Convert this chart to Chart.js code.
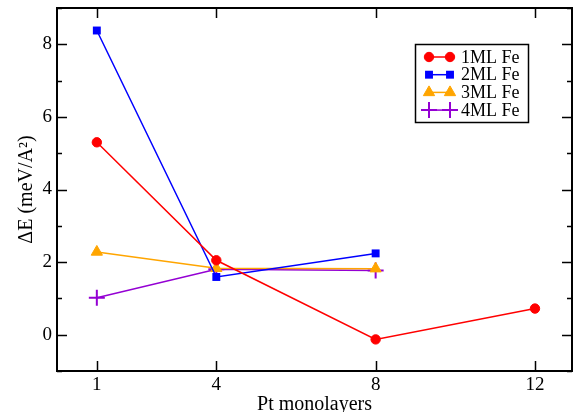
<!DOCTYPE html>
<html>
<head>
<meta charset="utf-8">
<script src="https://cdn.jsdelivr.net/npm/chart.js@4/dist/chart.umd.min.js"></script>
<style>
  html, body { margin: 0; padding: 0; background: #fff; }
  #box { width: 573px; height: 412px; }
</style>
</head>
<body>
<div id="box"><canvas id="graphe"></canvas></div>
<script>
// donnees
const ptLayers = [1, 4, 8, 12];
const fe1 = [5.30, 2.05, -0.13, 0.72];
const fe2 = [8.38, 1.59, 2.24];
const fe3 = [2.28, 1.83, 1.82];
const fe4 = [1.02, 1.80, 1.77];
const xTicks = [1, 4, 8, 12];
const yTicks = [0, 2, 4, 6, 8];
const yMinor = [-1, 1, 3, 5, 7, 9];

const serif = '"Liberation Serif", "DejaVu Serif", serif';
Chart.defaults.font.family = serif;
Chart.defaults.color = '#000';

function pts(vals) {
  return vals.map((v, i) => ({ x: ptLayers[i], y: v }));
}

// cadre avec graduations vers l'interieur (style xmgrace)
const cadre = {
  id: 'cadre',
  afterDraw(chart) {
    const c = chart.ctx, a = chart.chartArea;
    const sx = chart.scales.x, sy = chart.scales.y;
    c.save();
    c.strokeStyle = '#000';
    c.lineWidth = 2;
    c.strokeRect(a.left, a.top, a.right - a.left, a.bottom - a.top);
    c.lineWidth = 1.5;
    c.beginPath();
    xTicks.forEach(v => {
      const x = Math.round(sx.getPixelForValue(v)) + 0.5;
      c.moveTo(x, a.bottom); c.lineTo(x, a.bottom - 10);
      c.moveTo(x, a.top); c.lineTo(x, a.top + 10);
    });
    yTicks.forEach(v => {
      const y = Math.round(sy.getPixelForValue(v)) + 0.5;
      c.moveTo(a.left, y); c.lineTo(a.left + 10, y);
      c.moveTo(a.right, y); c.lineTo(a.right - 10, y);
    });
    yMinor.forEach(v => {
      const y = Math.round(sy.getPixelForValue(v)) + 0.5;
      c.moveTo(a.left, y); c.lineTo(a.left + 5, y);
      c.moveTo(a.right, y); c.lineTo(a.right - 5, y);
    });
    c.stroke();

    // legende
    const lx = 415, ly = 44, lw = 113, lh = 78;
    c.fillStyle = '#fff';
    c.fillRect(lx, ly, lw, lh);
    c.lineWidth = 1.5;
    c.strokeStyle = '#000';
    c.strokeRect(lx + 0.5, ly + 0.5, lw, lh);
    c.font = '18px ' + serif;
    c.textBaseline = 'middle';
    chart.data.datasets.forEach((ds, i) => {
      const y = ly + 13 + i * 17.7;
      c.strokeStyle = ds.borderColor;
      c.lineWidth = ds.borderWidth;
      c.beginPath(); c.moveTo(429, y); c.lineTo(450, y); c.stroke();
      [429, 450].forEach(x => {
        c.fillStyle = ds.pointBackgroundColor;
        c.strokeStyle = ds.pointBorderColor;
        c.lineWidth = ds.pointBorderWidth;
        Chart.helpers.drawPoint(c, { pointStyle: ds.pointStyle, radius: ds.pointRadius, borderWidth: ds.pointBorderWidth, rotation: 0 }, x, y);
      });
      c.fillStyle = '#000';
      c.fillText(ds.label, 461, y + 1);
    });
    c.restore();
  }
};

function serie(label, vals, color, style, radius, bw) {
  return {
    label: label,
    data: pts(vals),
    borderColor: color,
    backgroundColor: color,
    borderWidth: 1.5,
    pointStyle: style,
    pointRadius: radius,
    pointHoverRadius: radius,
    pointBackgroundColor: color,
    pointBorderColor: color,
    pointBorderWidth: bw,
    tension: 0
  };
}

new Chart(document.getElementById('graphe'), {
  type: 'line',
  data: {
    datasets: [
      serie('1ML Fe', fe1, '#ff0000', 'circle', 4.7, 1),
      serie('2ML Fe', fe2, '#0000ff', 'rect', 5.6, 0),
      serie('3ML Fe', fe3, '#ffa500', 'triangle', 6.5, 1),
      serie('4ML Fe', fe4, '#9400d3', 'cross', 8, 2)
    ]
  },
  options: {
    responsive: true,
    maintainAspectRatio: false,
    animation: false,
    layout: { autoPadding: false, padding: { top: 8, right: 1, left: 0, bottom: 0 } },
    plugins: { legend: { display: false }, tooltip: { enabled: false } },
    scales: {
      x: {
        type: 'linear',
        min: 0, max: 12.93,
        afterBuildTicks: s => { s.ticks = xTicks.map(v => ({ value: v })); },
        afterFit: s => { s.height = 41; s.paddingLeft = 0; s.paddingRight = 0; },
        grid: { display: false, drawTicks: false },
        border: { display: false },
        ticks: { color: '#000', padding: 3, maxRotation: 0, font: { family: serif, size: 19 } },
        title: { display: true, text: 'Pt monolayers', color: '#000', padding: { top: 0, bottom: -5 }, font: { family: serif, size: 20 } }
      },
      y: {
        min: -1, max: 9,
        afterBuildTicks: s => { s.ticks = yTicks.map(v => ({ value: v })); },
        afterFit: s => { s.width = 57; s.paddingTop = 0; s.paddingBottom = 0; },
        grid: { display: false, drawTicks: false },
        border: { display: false },
        ticks: { color: '#000', padding: 5, font: { family: serif, size: 19 } },
        title: { display: true, text: 'ΔE (meV/A²)', color: '#000', padding: { top: 15, bottom: 0 }, font: { family: serif, size: 20 } }
      }
    }
  },
  plugins: [cadre]
});
</script>
</body>
</html>
